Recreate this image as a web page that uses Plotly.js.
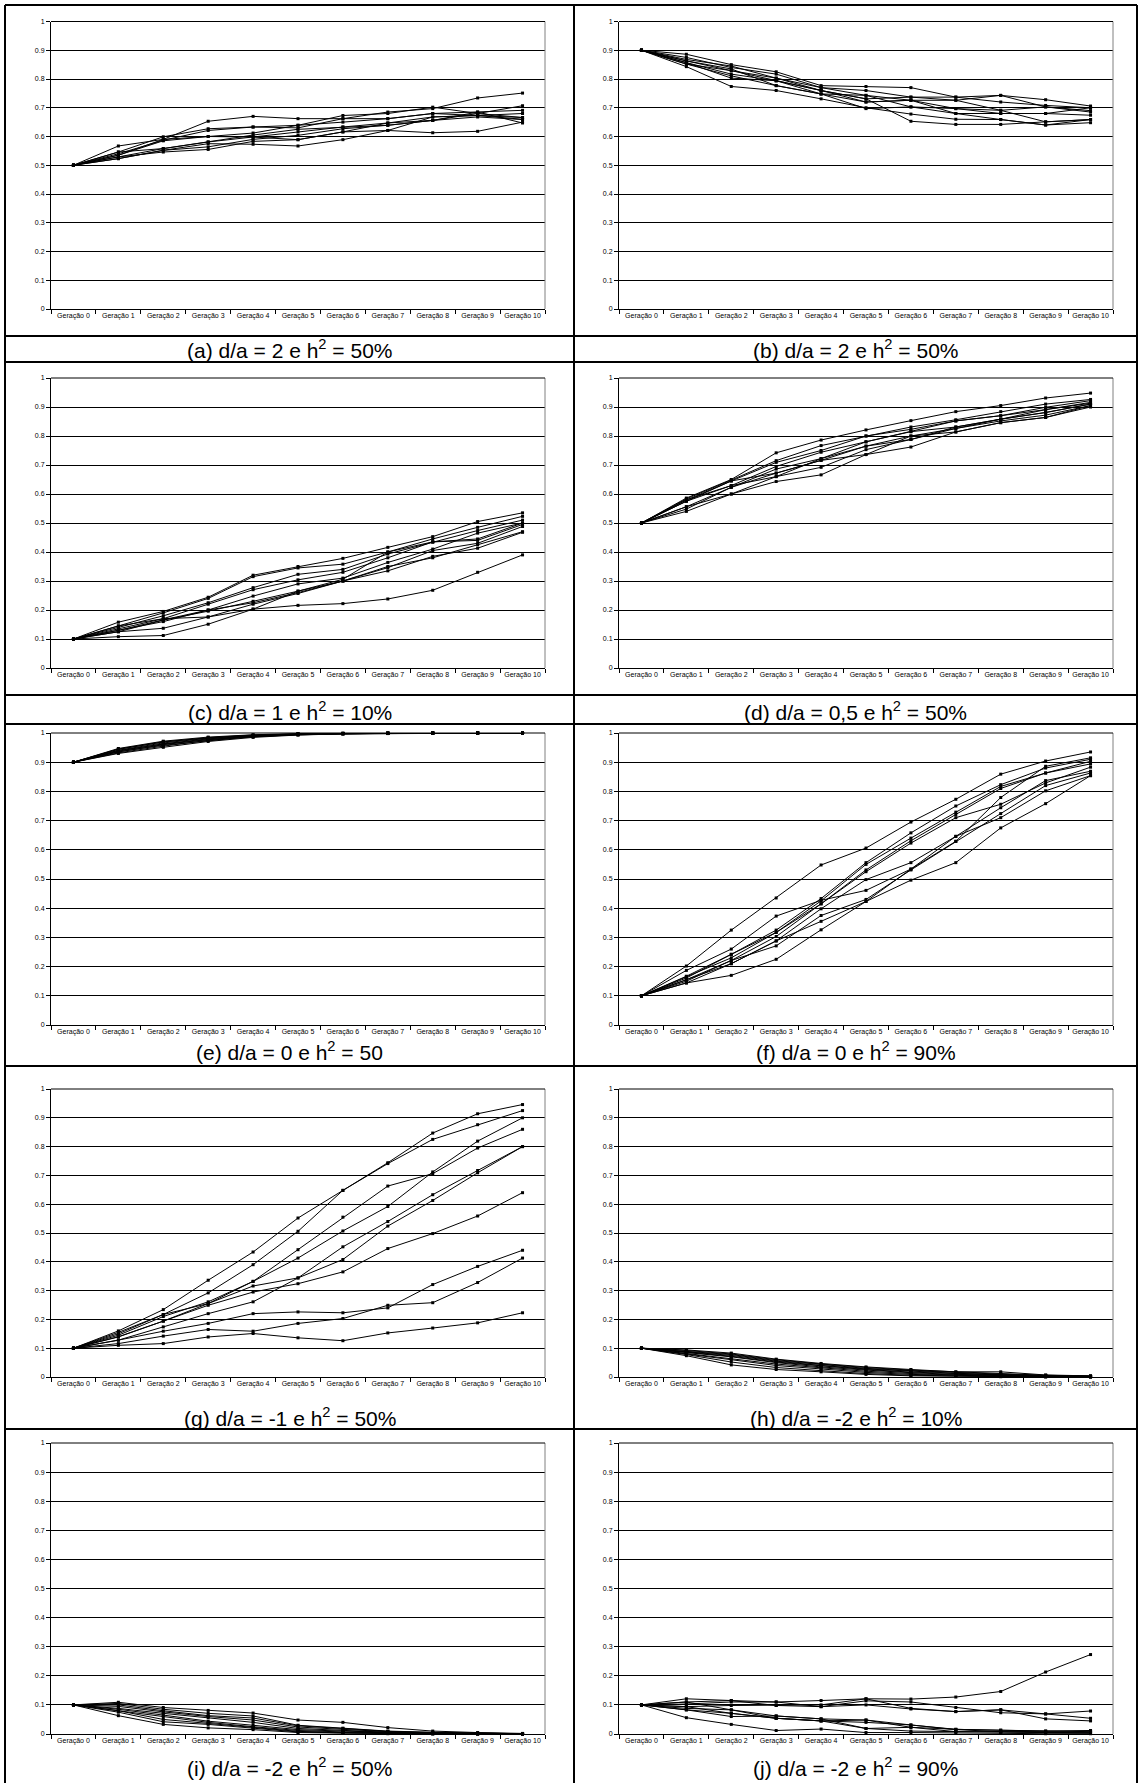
<!DOCTYPE html>
<html>
<head>
<meta charset="utf-8">
<script src="https://cdn.plot.ly/plotly-3.0.1.min.js"></script>
<style>
  html, body { margin: 0; padding: 0; background: #fff; }
  #chart { width: 1143px; height: 1783px; }
</style>
</head>
<body>
<div id="chart"></div>
<script>
// ---------------- DATA ----------------
const categories = ['Geração 0','Geração 1','Geração 2','Geração 3','Geração 4','Geração 5','Geração 6','Geração 7','Geração 8','Geração 9','Geração 10'];

const captions = [
  '(a) d/a = 2 e h<sup>2</sup> = 50%',
  '(b) d/a = 2 e h<sup>2</sup> = 50%',
  '(c) d/a = 1 e h<sup>2</sup> = 10%',
  '(d) d/a = 0,5 e h<sup>2</sup> = 50%',
  '(e) d/a = 0 e h<sup>2</sup> = 50',
  '(f) d/a = 0 e h<sup>2</sup> = 90%',
  '(g) d/a = -1 e h<sup>2</sup> = 50%',
  '(h) d/a = -2 e h<sup>2</sup> = 10%',
  '(i) d/a = -2 e h<sup>2</sup> = 50%',
  '(j) d/a = -2 e h<sup>2</sup> = 90%'
];

const panelA = [
  [0.5, 0.567, 0.590, 0.653, 0.670, 0.662, 0.662, 0.685, 0.697, 0.734, 0.751],
  [0.5, 0.546, 0.599, 0.627, 0.633, 0.639, 0.673, 0.680, 0.702, 0.680, 0.707],
  [0.5, 0.540, 0.587, 0.621, 0.633, 0.630, 0.662, 0.662, 0.680, 0.685, 0.691],
  [0.5, 0.535, 0.585, 0.600, 0.612, 0.639, 0.650, 0.662, 0.680, 0.673, 0.680],
  [0.5, 0.529, 0.558, 0.581, 0.598, 0.616, 0.633, 0.647, 0.668, 0.673, 0.666],
  [0.5, 0.523, 0.552, 0.564, 0.590, 0.604, 0.627, 0.639, 0.656, 0.668, 0.659],
  [0.5, 0.529, 0.546, 0.555, 0.583, 0.589, 0.616, 0.647, 0.656, 0.685, 0.647],
  [0.5, 0.523, 0.552, 0.575, 0.573, 0.567, 0.589, 0.621, 0.668, 0.673, 0.660],
  [0.5, 0.535, 0.590, 0.600, 0.598, 0.589, 0.616, 0.621, 0.613, 0.618, 0.650],
  [0.5, 0.546, 0.558, 0.581, 0.605, 0.625, 0.633, 0.639, 0.656, 0.680, 0.666]
];

const panelB = [
  [0.9, 0.886, 0.850, 0.825, 0.777, 0.774, 0.770, 0.737, 0.743, 0.728, 0.706],
  [0.9, 0.875, 0.840, 0.817, 0.770, 0.760, 0.737, 0.737, 0.720, 0.708, 0.700],
  [0.9, 0.868, 0.845, 0.803, 0.770, 0.743, 0.726, 0.726, 0.743, 0.703, 0.690],
  [0.9, 0.863, 0.829, 0.803, 0.760, 0.731, 0.737, 0.726, 0.691, 0.703, 0.685],
  [0.9, 0.857, 0.817, 0.794, 0.760, 0.720, 0.726, 0.697, 0.680, 0.680, 0.700],
  [0.9, 0.852, 0.811, 0.777, 0.748, 0.743, 0.703, 0.680, 0.680, 0.680, 0.674],
  [0.9, 0.857, 0.803, 0.794, 0.748, 0.697, 0.703, 0.697, 0.691, 0.651, 0.659],
  [0.9, 0.843, 0.774, 0.760, 0.731, 0.700, 0.678, 0.660, 0.659, 0.640, 0.648],
  [0.9, 0.852, 0.829, 0.794, 0.760, 0.731, 0.653, 0.642, 0.642, 0.651, 0.659],
  [0.9, 0.863, 0.835, 0.777, 0.748, 0.720, 0.726, 0.680, 0.659, 0.640, 0.659]
];

const panelC = [
  [0.1, 0.158, 0.195, 0.244, 0.320, 0.350, 0.378, 0.416, 0.453, 0.505, 0.535],
  [0.1, 0.145, 0.190, 0.240, 0.315, 0.345, 0.358, 0.400, 0.445, 0.485, 0.523],
  [0.1, 0.140, 0.180, 0.225, 0.277, 0.323, 0.340, 0.393, 0.434, 0.474, 0.510],
  [0.1, 0.135, 0.170, 0.220, 0.270, 0.304, 0.330, 0.380, 0.435, 0.445, 0.500],
  [0.1, 0.130, 0.166, 0.200, 0.248, 0.290, 0.310, 0.364, 0.410, 0.465, 0.500],
  [0.1, 0.125, 0.165, 0.196, 0.230, 0.265, 0.306, 0.400, 0.435, 0.440, 0.495],
  [0.1, 0.130, 0.160, 0.200, 0.225, 0.260, 0.300, 0.346, 0.405, 0.430, 0.488],
  [0.1, 0.125, 0.137, 0.176, 0.220, 0.257, 0.300, 0.335, 0.385, 0.413, 0.468],
  [0.1, 0.108, 0.112, 0.151, 0.203, 0.265, 0.300, 0.350, 0.380, 0.425, 0.470],
  [0.1, 0.145, 0.170, 0.176, 0.203, 0.216, 0.222, 0.238, 0.268, 0.330, 0.390]
];

const panelD = [
  [0.5, 0.586, 0.650, 0.742, 0.786, 0.821, 0.853, 0.884, 0.905, 0.931, 0.948],
  [0.5, 0.583, 0.648, 0.715, 0.767, 0.800, 0.831, 0.856, 0.884, 0.910, 0.926],
  [0.5, 0.579, 0.645, 0.709, 0.750, 0.800, 0.823, 0.852, 0.870, 0.899, 0.922],
  [0.5, 0.575, 0.629, 0.695, 0.744, 0.780, 0.815, 0.852, 0.870, 0.891, 0.916],
  [0.5, 0.556, 0.623, 0.686, 0.722, 0.780, 0.815, 0.831, 0.858, 0.891, 0.913],
  [0.5, 0.548, 0.623, 0.672, 0.716, 0.765, 0.800, 0.826, 0.858, 0.881, 0.910],
  [0.5, 0.540, 0.600, 0.660, 0.692, 0.753, 0.788, 0.826, 0.852, 0.872, 0.905],
  [0.5, 0.556, 0.600, 0.643, 0.666, 0.736, 0.762, 0.814, 0.846, 0.864, 0.900],
  [0.5, 0.575, 0.645, 0.672, 0.716, 0.736, 0.800, 0.814, 0.846, 0.864, 0.905],
  [0.5, 0.580, 0.629, 0.660, 0.722, 0.765, 0.788, 0.831, 0.858, 0.881, 0.910]
];

const panelE = [
  [0.9, 0.947, 0.972, 0.986, 0.994, 0.998, 0.999, 1.000, 1.000, 1.000, 1.000],
  [0.9, 0.944, 0.969, 0.984, 0.993, 0.997, 0.999, 0.999, 1.000, 1.000, 1.000],
  [0.9, 0.941, 0.966, 0.982, 0.991, 0.996, 0.998, 0.999, 1.000, 1.000, 1.000],
  [0.9, 0.938, 0.963, 0.980, 0.990, 0.996, 0.998, 0.999, 1.000, 1.000, 1.000],
  [0.9, 0.935, 0.960, 0.978, 0.988, 0.995, 0.998, 0.999, 0.999, 1.000, 1.000],
  [0.9, 0.932, 0.955, 0.975, 0.987, 0.994, 0.997, 0.999, 0.999, 1.000, 1.000],
  [0.9, 0.945, 0.970, 0.983, 0.992, 0.997, 0.999, 1.000, 1.000, 1.000, 1.000],
  [0.9, 0.940, 0.962, 0.977, 0.989, 0.995, 0.998, 0.999, 1.000, 1.000, 1.000],
  [0.9, 0.936, 0.958, 0.974, 0.988, 0.994, 0.997, 0.999, 0.999, 1.000, 1.000],
  [0.9, 0.930, 0.951, 0.971, 0.985, 0.993, 0.997, 0.998, 0.999, 1.000, 1.000]
];

const panelF = [
  [0.1, 0.202, 0.325, 0.435, 0.548, 0.606, 0.695, 0.773, 0.859, 0.904, 0.935],
  [0.1, 0.187, 0.260, 0.373, 0.427, 0.461, 0.534, 0.629, 0.779, 0.886, 0.915],
  [0.1, 0.167, 0.242, 0.325, 0.433, 0.556, 0.658, 0.750, 0.823, 0.880, 0.910],
  [0.1, 0.161, 0.242, 0.317, 0.425, 0.550, 0.640, 0.729, 0.817, 0.863, 0.903],
  [0.1, 0.165, 0.230, 0.317, 0.415, 0.531, 0.631, 0.721, 0.810, 0.863, 0.894],
  [0.1, 0.155, 0.221, 0.303, 0.415, 0.525, 0.623, 0.710, 0.756, 0.829, 0.883],
  [0.1, 0.155, 0.210, 0.288, 0.398, 0.498, 0.556, 0.646, 0.744, 0.837, 0.869],
  [0.1, 0.150, 0.221, 0.271, 0.375, 0.430, 0.531, 0.629, 0.724, 0.820, 0.863],
  [0.1, 0.144, 0.210, 0.288, 0.355, 0.423, 0.534, 0.646, 0.710, 0.802, 0.854],
  [0.1, 0.144, 0.170, 0.225, 0.326, 0.423, 0.496, 0.556, 0.675, 0.758, 0.854]
];

const panelG = [
  [0.1, 0.160, 0.234, 0.336, 0.434, 0.552, 0.648, 0.741, 0.825, 0.876, 0.925],
  [0.1, 0.155, 0.217, 0.292, 0.390, 0.506, 0.648, 0.744, 0.847, 0.914, 0.946],
  [0.1, 0.150, 0.217, 0.255, 0.332, 0.442, 0.555, 0.663, 0.706, 0.795, 0.860],
  [0.1, 0.145, 0.210, 0.261, 0.332, 0.413, 0.507, 0.592, 0.712, 0.819, 0.900],
  [0.1, 0.140, 0.194, 0.255, 0.316, 0.344, 0.452, 0.540, 0.633, 0.717, 0.800],
  [0.1, 0.128, 0.174, 0.220, 0.261, 0.344, 0.408, 0.524, 0.613, 0.709, 0.800],
  [0.1, 0.139, 0.194, 0.249, 0.295, 0.324, 0.365, 0.446, 0.498, 0.559, 0.640],
  [0.1, 0.128, 0.159, 0.186, 0.220, 0.226, 0.223, 0.240, 0.321, 0.384, 0.440],
  [0.1, 0.116, 0.142, 0.165, 0.159, 0.186, 0.203, 0.249, 0.258, 0.328, 0.413],
  [0.1, 0.110, 0.116, 0.139, 0.151, 0.136, 0.126, 0.153, 0.170, 0.188, 0.223]
];

const panelH = [
  [0.1, 0.094, 0.083, 0.062, 0.047, 0.035, 0.026, 0.018, 0.018, 0.007, 0.004],
  [0.1, 0.092, 0.080, 0.060, 0.045, 0.033, 0.024, 0.017, 0.012, 0.006, 0.003],
  [0.1, 0.090, 0.078, 0.057, 0.043, 0.030, 0.022, 0.015, 0.010, 0.005, 0.003],
  [0.1, 0.088, 0.075, 0.055, 0.040, 0.028, 0.020, 0.013, 0.008, 0.005, 0.002],
  [0.1, 0.086, 0.072, 0.052, 0.038, 0.026, 0.017, 0.011, 0.007, 0.004, 0.002],
  [0.1, 0.085, 0.070, 0.050, 0.035, 0.024, 0.015, 0.009, 0.006, 0.003, 0.002],
  [0.1, 0.082, 0.065, 0.045, 0.032, 0.020, 0.012, 0.007, 0.005, 0.003, 0.001],
  [0.1, 0.080, 0.060, 0.040, 0.028, 0.016, 0.009, 0.005, 0.003, 0.002, 0.001],
  [0.1, 0.078, 0.052, 0.033, 0.022, 0.012, 0.006, 0.003, 0.002, 0.001, 0.000],
  [0.1, 0.074, 0.042, 0.026, 0.018, 0.009, 0.004, 0.002, 0.001, 0.000, 0.000]
];

const panelI = [
  [0.1, 0.109, 0.091, 0.081, 0.072, 0.048, 0.040, 0.022, 0.010, 0.005, 0.002],
  [0.1, 0.105, 0.085, 0.071, 0.062, 0.030, 0.020, 0.010, 0.006, 0.003, 0.001],
  [0.1, 0.100, 0.080, 0.063, 0.055, 0.028, 0.019, 0.009, 0.005, 0.002, 0.001],
  [0.1, 0.095, 0.076, 0.060, 0.048, 0.024, 0.016, 0.008, 0.004, 0.002, 0.001],
  [0.1, 0.088, 0.071, 0.056, 0.040, 0.019, 0.012, 0.006, 0.003, 0.002, 0.000],
  [0.1, 0.085, 0.065, 0.044, 0.030, 0.015, 0.010, 0.005, 0.002, 0.001, 0.000],
  [0.1, 0.080, 0.059, 0.040, 0.025, 0.012, 0.007, 0.004, 0.002, 0.001, 0.000],
  [0.1, 0.080, 0.050, 0.036, 0.022, 0.009, 0.005, 0.003, 0.001, 0.000, 0.000],
  [0.1, 0.075, 0.042, 0.033, 0.020, 0.007, 0.004, 0.002, 0.001, 0.000, 0.000],
  [0.1, 0.063, 0.033, 0.021, 0.015, 0.005, 0.003, 0.001, 0.000, 0.000, 0.000]
];

const panelJ = [
  [0.1, 0.110, 0.115, 0.110, 0.115, 0.121, 0.120, 0.127, 0.146, 0.213, 0.273],
  [0.1, 0.121, 0.115, 0.098, 0.094, 0.114, 0.110, 0.091, 0.073, 0.069, 0.054],
  [0.1, 0.103, 0.110, 0.110, 0.094, 0.100, 0.086, 0.077, 0.083, 0.069, 0.079],
  [0.1, 0.094, 0.098, 0.098, 0.100, 0.121, 0.088, 0.077, 0.083, 0.052, 0.045],
  [0.1, 0.088, 0.083, 0.062, 0.052, 0.048, 0.031, 0.016, 0.013, 0.010, 0.012],
  [0.1, 0.083, 0.071, 0.054, 0.045, 0.048, 0.023, 0.016, 0.013, 0.010, 0.008],
  [0.1, 0.083, 0.060, 0.062, 0.052, 0.019, 0.023, 0.008, 0.008, 0.005, 0.005],
  [0.1, 0.110, 0.083, 0.054, 0.045, 0.019, 0.010, 0.008, 0.005, 0.005, 0.003],
  [0.1, 0.056, 0.033, 0.012, 0.017, 0.005, 0.005, 0.003, 0.002, 0.001, 0.001],
  [0.1, 0.094, 0.071, 0.054, 0.045, 0.040, 0.031, 0.015, 0.008, 0.008, 0.010]
];

const panels = [panelA, panelB, panelC, panelD, panelE, panelF, panelG, panelH, panelI, panelJ];

// ---------------- LAYOUT GEOMETRY (pixels) ----------------
const W = 1143, H = 1783;
const colX = [[51, 545], [619, 1113]];          // plot area left/right per column
const rowY = [[21.5, 309], [378, 668], [733, 1025], [1089, 1377], [1443, 1734]]; // plot top / zero line per row
const captionY = [349, 711, 1051, 1417, 1767];
const colCenter = [289.5, 855.5];

const px = x => x / W;
const py = y => 1 - y / H;

const FONT = 'Liberation Sans, Arial, Helvetica, sans-serif';

const traces = [];
const layout = {
  width: W, height: H,
  margin: {l: 0, r: 0, t: 0, b: 0},
  paper_bgcolor: '#ffffff',
  plot_bgcolor: '#ffffff',
  showlegend: false,
  font: {family: FONT, color: '#000', size: 12},
  shapes: [],
  annotations: []
};

panels.forEach((series, p) => {
  const row = Math.floor(p / 2), col = p % 2;
  const n = p + 1;
  const xa = 'x' + (n === 1 ? '' : n), ya = 'y' + (n === 1 ? '' : n);
  series.forEach(vals => {
    traces.push({
      type: 'scatter', mode: 'lines+markers',
      x: categories, y: vals,
      xaxis: xa, yaxis: ya,
      line: {color: '#000', width: 1},
      marker: {symbol: 'square', size: 3, color: '#000'},
      hoverinfo: 'skip', cliponaxis: false
    });
  });
  const [x0, x1] = colX[col];
  const [yt, yb] = rowY[row];
  layout['xaxis' + (n === 1 ? '' : n)] = {
    domain: [px(x0), px(x1)],
    anchor: ya,
    type: 'category',
    categoryarray: categories,
    range: [-0.5, 10.5],
    tickson: 'boundaries',
    ticks: 'outside', ticklen: 4, tickwidth: 1, tickcolor: '#000',
    showline: true, linecolor: '#000', linewidth: 1,
    showgrid: false, zeroline: false,
    tickangle: 0,
    tickfont: {family: FONT, size: 7, color: '#000'},
    fixedrange: true
  };
  layout['yaxis' + (n === 1 ? '' : n)] = {
    domain: [py(yb), py(yt)],
    anchor: xa,
    range: [0, 1],
    tick0: 0, dtick: 0.1,
    ticks: 'outside', ticklen: 4, tickwidth: 1, tickcolor: '#000',
    showline: true, linecolor: '#000', linewidth: 1,
    showgrid: true, gridcolor: '#000', gridwidth: 1,
    zeroline: false,
    tickfont: {family: FONT, size: 7, color: '#000'},
    fixedrange: true
  };
  // plot-area frame: grey right edge, black top edge
  layout.shapes.push({type: 'line', xref: 'paper', yref: 'paper', x0: px(x1), x1: px(x1), y0: py(yb), y1: py(yt), line: {color: '#808080', width: 1}});
  layout.shapes.push({type: 'line', xref: 'paper', yref: 'paper', x0: px(x0), x1: px(x1), y0: py(yt), y1: py(yt), line: {color: '#000', width: 1}});
  layout.annotations.push({
    xref: 'paper', yref: 'paper',
    x: px(colCenter[col]), y: py(captionY[row]),
    xanchor: 'center', yanchor: 'middle',
    text: captions[p], showarrow: false,
    font: {family: FONT, size: 21, color: '#000'}
  });
});

// table borders
const hLine = (y, xa = 5, xb = 1137) => ({type: 'line', xref: 'paper', yref: 'paper', x0: px(xa), x1: px(xb), y0: py(y), y1: py(y), line: {color: '#000', width: 2}});
const vLine = (x, ya = 5, yb = 1790) => ({type: 'line', xref: 'paper', yref: 'paper', x0: px(x), x1: px(x), y0: py(ya), y1: py(yb), line: {color: '#000', width: 2}});
[5, 336, 362, 695, 724, 1066, 1429].forEach(y => layout.shapes.push(hLine(y)));
[5, 574, 1137].forEach(x => layout.shapes.push(vLine(x)));

Plotly.newPlot('chart', traces, layout, {staticPlot: true, displayModeBar: false});
</script>
</body>
</html>
